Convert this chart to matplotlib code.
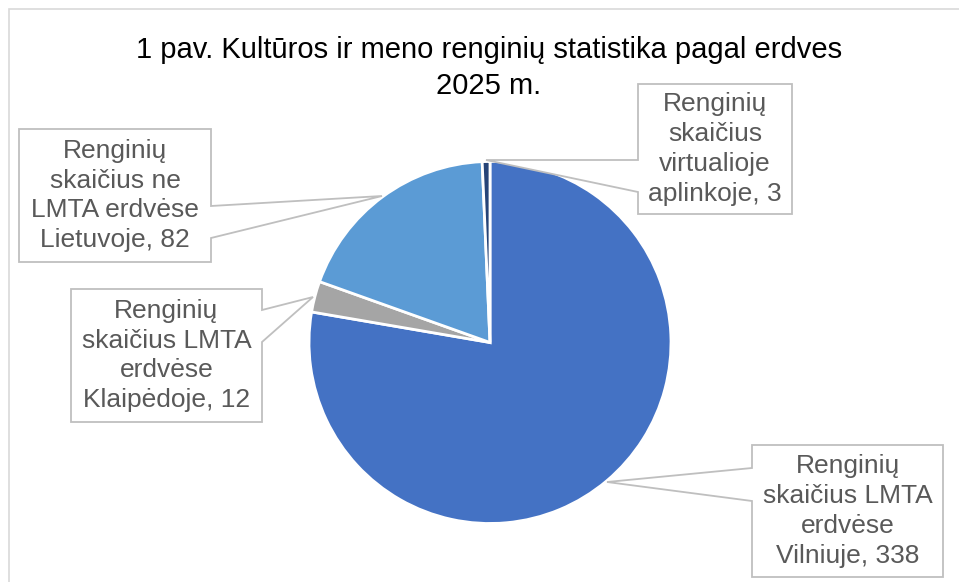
import numpy as np
import matplotlib.pyplot as plt
from matplotlib.patches import Polygon, Rectangle

plt.rcParams['font.family'] = ['Liberation Sans', 'DejaVu Sans']

W, H = 959, 582

title = "1 pav. Kultūros ir meno renginių statistika pagal erdves\n2025 m."
names = ["Renginių\nskaičius LMTA\nerdvėse\nVilniuje",
         "Renginių\nskaičius LMTA\nerdvėse\nKlaipėdoje",
         "Renginių\nskaičius ne\nLMTA erdvėse\nLietuvoje",
         "Renginių\nskaičius\nvirtualioje\naplinkoje"]
values = [338, 12, 82, 3]
colors = ["#4472C4", "#A5A5A5", "#5B9BD5", "#264478"]

# label boxes in pixel coords: (left, top, right, bottom), pointer side attach (y1, y2), tip
boxes = [
    ((752, 445, 943, 577), ("left", 468, 501), (607, 482)),
    ((71, 289, 262, 422), ("right", 310, 342), (313, 297)),
    ((19, 129, 211, 262), ("right", 206, 238), (382, 196)),
    ((638, 84, 792, 214), ("left", 160, 192), (486, 160)),
]


def fy(y):
    return H - y


fig = plt.figure(figsize=(W / 100, H / 100), dpi=100)
ax = fig.add_axes([0, 0, 1, 1])

ax.pie(values, colors=colors, startangle=90, counterclock=False,
       center=(490, fy(342.5)), radius=181,
       wedgeprops=dict(edgecolor="white", linewidth=2))
ax.set_xlim(0, W)
ax.set_ylim(0, H)
ax.set_aspect("equal")
ax.axis("off")

# chart area border
ax.add_patch(Rectangle((9, fy(H + 20)), W + 20, H + 20 - 9, fill=False,
                       edgecolor="#D9D9D9", linewidth=1.2))

ax.text(489, fy(68), title, ha="center", va="center", fontsize=21,
        color="black", linespacing=1.32)

for name, val, (box, (side, a, b), tip) in zip(names, values, boxes):
    l, t, r, btm = box
    if side == "left":
        pts = [(l, t), (r, t), (r, btm), (l, btm), (l, b), tip, (l, a)]
    else:
        pts = [(l, t), (r, t), (r, a), tip, (r, b), (r, btm), (l, btm)]
    pts = [(x, fy(y)) for x, y in pts]
    ax.add_patch(Polygon(pts, closed=True, facecolor="white",
                         edgecolor="#BFBFBF", linewidth=1.3, zorder=3))
    ax.text((l + r) / 2, fy((t + btm) / 2), f"{name}, {val}", ha="center",
            va="center", fontsize=19, color="#595959", linespacing=1.3,
            zorder=4)

fig.savefig("out.png", dpi=100)
